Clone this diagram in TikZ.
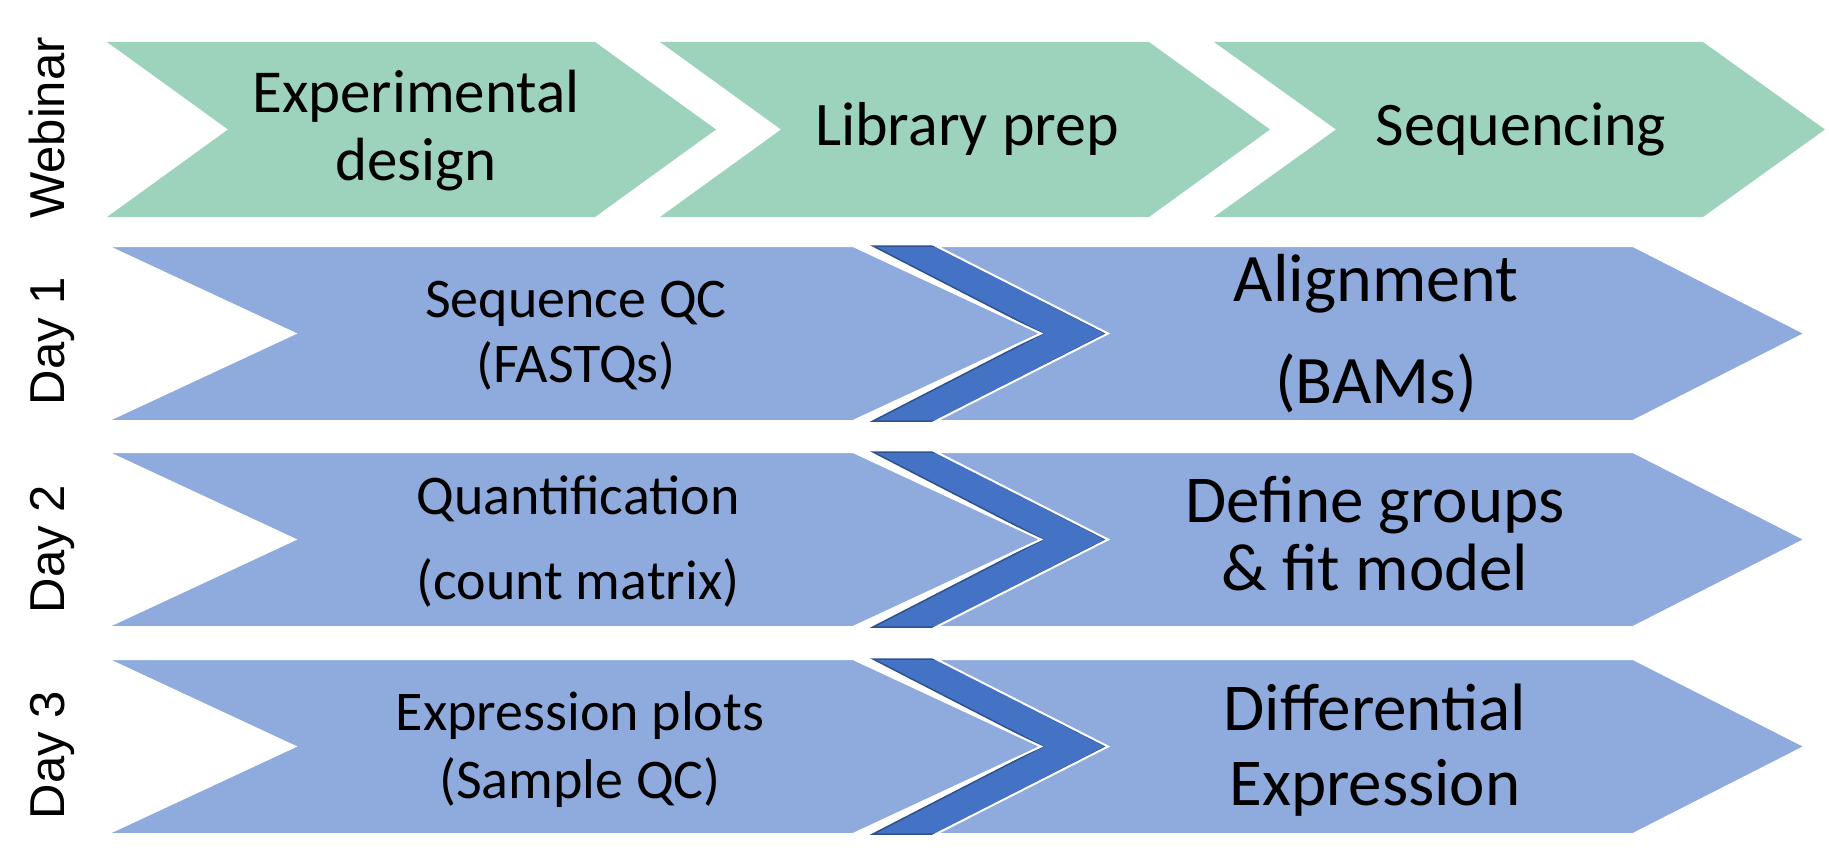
\documentclass[tikz,border=0pt]{standalone}
\usepackage{fontspec}
\setmainfont{Carlito}
\newfontfamily\lblfont{Liberation Sans}
\definecolor{stepgreen}{RGB}{157,211,189}
\definecolor{lightblue}{RGB}{143,170,220}
\definecolor{darkblue}{RGB}{68,114,196}
\definecolor{darkedge}{RGB}{47,82,143}
\newcommand{\setfs}[2]{\fontsize{#1}{#2}\selectfont}
% #1 style, #2 left x, #3 top-right x, #4 top y, #5 bottom y, #6 point depth
\newcommand{\chevshape}[6]{%
  \pgfmathsetmacro\chevym{(#4+#5)/2}%
  \pgfmathsetmacro\chevxt{#3+#6}%
  \pgfmathsetmacro\chevxn{#2+#6}%
  \path[#1] (#2,#4) -- (#3,#4) -- (\chevxt,\chevym) -- (#3,#5) -- (#2,#5) -- (\chevxn,\chevym) -- cycle;%
}
\begin{document}
\begin{tikzpicture}[x=1pt,y=-1pt,
  greenchev/.style={fill=stepgreen},
  bluechev/.style={fill=lightblue, draw=white, line width=2pt, line join=miter},
  darkchev/.style={fill=darkblue, draw=darkedge, line width=1.5pt, line join=miter},
  steptext/.style={anchor=base, align=center, text=black, inner sep=0pt},
  daylabel/.style={anchor=base, rotate=90, font=\lblfont\setfs{49}{59}, inner sep=0pt}]
\useasboundingbox (0,0) rectangle (1829,864);
\fill[white] (0,0) rectangle (1829,864);

% Webinar row
\chevshape{greenchev}{107}{595}{42}{217}{121}
\chevshape{greenchev}{660}{1149}{42}{217}{121}
\chevshape{greenchev}{1214}{1703}{42}{217}{122}

% Day rows
\foreach \yt/\yb in {246/421, 452/627, 659/834}{
  \chevshape{darkchev}{873}{936}{\yt}{\yb}{170}
  \chevshape{bluechev}{107}{853}{\yt}{\yb}{188}
  \chevshape{bluechev}{936}{1633}{\yt}{\yb}{172}
}

% Row labels
\node[daylabel] (lweb) at (64,128) {Webinar};
\node[daylabel] (lday1) at (64,341) {Day 1};
\node[daylabel] (lday2) at (64,549) {Day 2};
\node[daylabel] (lday3) at (64,755) {Day 3};

% Webinar texts (anchor = baseline of last line)
\node[steptext, font=\setfs{61}{68}] (expdesign) at (416,180) {Experimental\\design};
\node[steptext, font=\setfs{62}{68}] (libprep) at (967,146) {Library prep};
\node[steptext, font=\setfs{62}{68}] (seqing) at (1521,146) {Sequencing};

% Day 1
\node[steptext, font=\setfs{56}{65}] (seqqc) at (576,382) {Sequence QC\\(FASTQs)};
\node[steptext, font=\setfs{68}{102}] (align) at (1376,403) {Alignment\\(BAMs)};

% Day 2
\node[steptext, font=\setfs{56}{85}] (quant) at (578,599) {Quantification\\(count matrix)};
\node[steptext, font=\setfs{67}{68}] (defgrp) at (1375,590) {Define groups\\\& fit model};

% Day 3
\node[steptext, font=\setfs{56}{68}] (exprplot) at (580,798) {Expression plots\\(Sample QC)};
\node[steptext, font=\setfs{67}{75}] (diffexpr) at (1375,805) {Differential\\Expression};
\end{tikzpicture}
\end{document}
